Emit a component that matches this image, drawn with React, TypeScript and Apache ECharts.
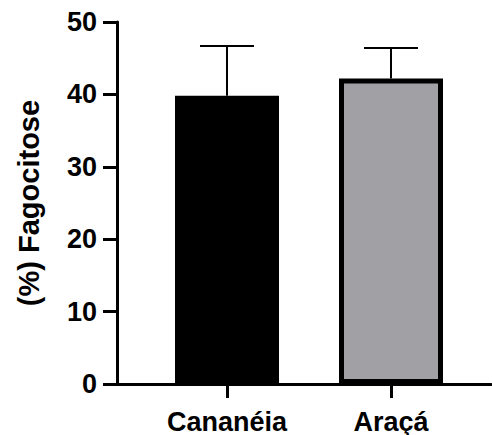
import React, { useEffect, useRef } from "react";
import * as echarts from "echarts";

const categories = ["Cananéia", "Araçá"];
const means = [39.8, 42.2];
const errors = [6.9, 4.2];
const fills = ["#000000", "#a1a0a5"];
const yTicks = [0, 10, 20, 30, 40, 50];
const yTitle = "(%) Fagocitose";

const FONT = "'Liberation Sans', Arial, Helvetica, sans-serif";

export default function App() {
  const ref = useRef<HTMLDivElement>(null);
  useEffect(() => {
    if (!ref.current) return;
    const chart = echarts.init(ref.current, null, { renderer: "svg" });
    const top = 22;
    const bottom = 51;
    chart.setOption({
      animation: false,
      grid: [
        { left: 117, right: 1, top, bottom, containLabel: false, outerBoundsMode: "none" },
        { left: 145, right: 19, top, bottom, containLabel: false, outerBoundsMode: "none" },
      ],
      xAxis: [
        {
          gridIndex: 0,
          type: "value",
          min: 0,
          max: 1,
          axisLine: { show: true, lineStyle: { color: "#000", width: 3 } },
          axisTick: { show: false },
          axisLabel: { show: false },
          splitLine: { show: false },
        },
        {
          gridIndex: 1,
          type: "category",
          data: categories,
          boundaryGap: true,
          axisLine: { show: false },
          axisTick: {
            show: true,
            alignWithLabel: true,
            length: 14,
            lineStyle: { color: "#000", width: 3 },
          },
          axisLabel: {
            color: "#000",
            fontFamily: FONT,
            fontWeight: "bold",
            fontSize: 27,
            margin: 24,
          },
        },
      ],
      yAxis: [
        {
          gridIndex: 0,
          type: "value",
          min: yTicks[0],
          max: yTicks[yTicks.length - 1],
          interval: yTicks[1] - yTicks[0],
          name: yTitle,
          nameLocation: "middle",
          nameGap: 74,
          nameTextStyle: {
            color: "#000",
            fontFamily: FONT,
            fontWeight: "bold",
            fontSize: 29,
          },
          axisLine: { show: true, lineStyle: { color: "#000", width: 3 } },
          axisTick: { show: true, length: 14, lineStyle: { color: "#000", width: 3 } },
          axisLabel: {
            color: "#000",
            fontFamily: FONT,
            fontWeight: "bold",
            fontSize: 27,
            margin: 20,
          },
          splitLine: { show: false },
        },
        {
          gridIndex: 1,
          type: "value",
          show: false,
          min: yTicks[0],
          max: yTicks[yTicks.length - 1],
          splitLine: { show: false },
        },
      ],
      series: [
        {
          type: "custom",
          xAxisIndex: 1,
          yAxisIndex: 1,
          z: 1,
          data: categories.map((c, i) => [i, means[i], means[i] + errors[i]]),
          renderItem: (params: any, api: any) => {
            const base = api.coord([api.value(0), api.value(1)]);
            const tip = api.coord([api.value(0), api.value(2)]);
            const half = 27;
            return {
              type: "group",
              children: [
                {
                  type: "line",
                  shape: { x1: base[0], y1: base[1], x2: tip[0], y2: tip[1] },
                  style: { stroke: "#000", lineWidth: 2 },
                },
                {
                  type: "line",
                  shape: { x1: tip[0] - half, y1: tip[1], x2: tip[0] + half, y2: tip[1] },
                  style: { stroke: "#000", lineWidth: 2 },
                },
              ],
            };
          },
        },
        {
          type: "bar",
          xAxisIndex: 1,
          yAxisIndex: 1,
          z: 2,
          barWidth: 104,
          data: means.map((v, i) => ({
            value: v,
            itemStyle: { color: fills[i], borderColor: "#000", borderWidth: 5 },
          })),
        },
      ],
    });
    return () => chart.dispose();
  }, []);
  return <div ref={ref} style={{ width: 492, height: 435, position: "absolute", left: 0, top: 0 }} />;
}
